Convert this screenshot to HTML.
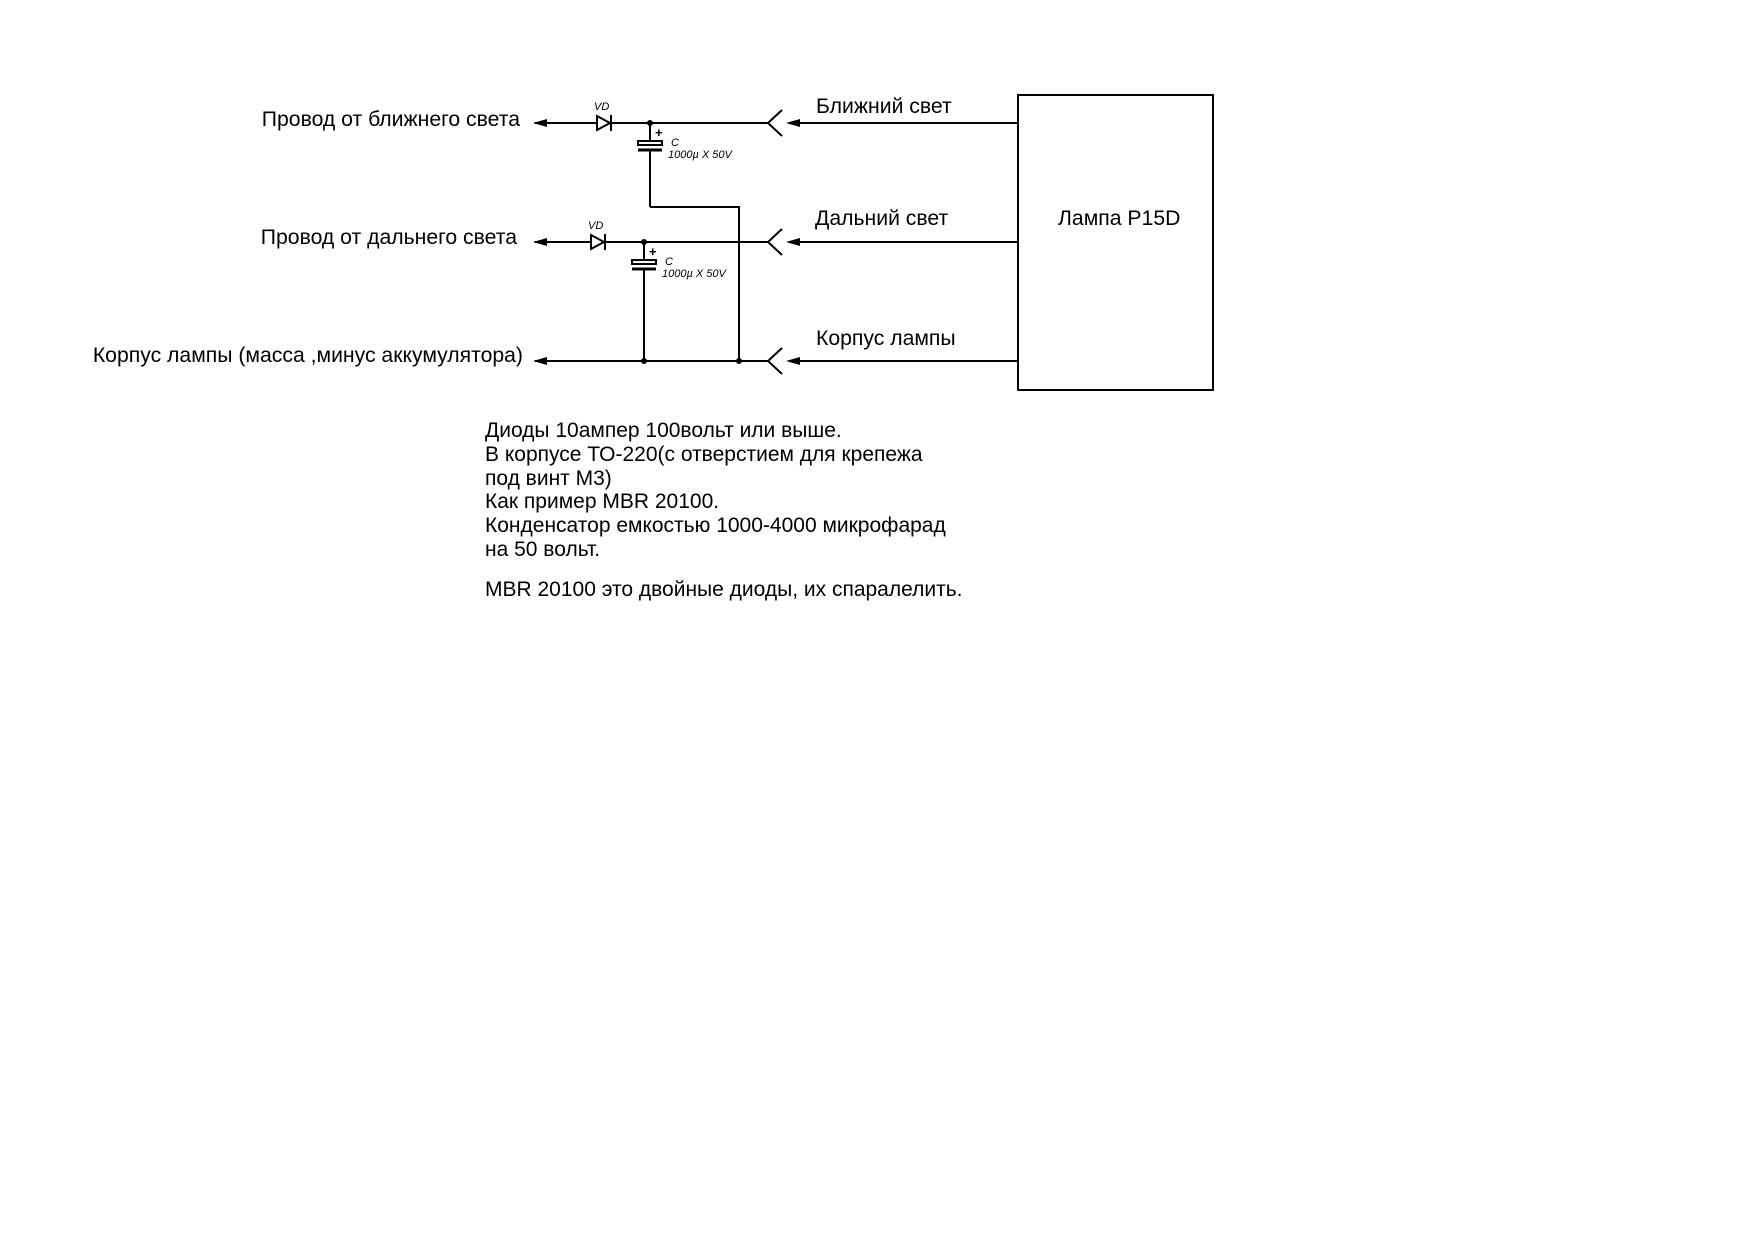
<!DOCTYPE html>
<html><head><meta charset="utf-8"><style>
html,body{margin:0;padding:0;background:#fff;}
body{width:1754px;height:1240px;position:relative;overflow:hidden;font-family:"Liberation Sans",Arial,sans-serif;}
svg{position:absolute;left:0;top:0;}
.notes{position:absolute;left:485px;font-size:21px;line-height:23.8px;color:#000;white-space:pre;}
</style></head><body>
<svg width="1754" height="1240" viewBox="0 0 1754 1240" font-family="Liberation Sans, Arial, sans-serif">
<g stroke="#000" stroke-width="2" fill="none">
<rect x="1018" y="95" width="195" height="295"/>
<line x1="535" y1="123" x2="596" y2="123"/>
<line x1="612" y1="123" x2="768" y2="123"/>
<polyline points="782,110 768,123 782,136"/>
<line x1="790" y1="123" x2="1018" y2="123"/>
<line x1="535" y1="242" x2="590" y2="242"/>
<line x1="606" y1="242" x2="768" y2="242"/>
<polyline points="782,229 768,242 782,255"/>
<line x1="790" y1="242" x2="1018" y2="242"/>
<line x1="535" y1="361" x2="768" y2="361"/>
<polyline points="782,348 768,361 782,374"/>
<line x1="790" y1="361" x2="1018" y2="361"/>
<line x1="650" y1="123" x2="650" y2="143"/>
<line x1="650" y1="149" x2="650" y2="207"/>
<polyline points="650,207 739,207 739,361"/>
<line x1="644" y1="242" x2="644" y2="262"/>
<line x1="644" y1="268" x2="644" y2="361"/>
</g>
<polygon points="597,116 597,130 610,123" fill="#fff" stroke="#000" stroke-width="2"/>
<line x1="611" y1="115" x2="611" y2="131" stroke="#000" stroke-width="2"/>
<polygon points="591,235 591,249 604,242" fill="#fff" stroke="#000" stroke-width="2"/>
<line x1="605" y1="234" x2="605" y2="250" stroke="#000" stroke-width="2"/>
<rect x="638" y="141" width="24" height="4" fill="#fff" stroke="#000" stroke-width="2"/>
<line x1="638" y1="150" x2="662" y2="150" stroke="#000" stroke-width="3"/>
<rect x="632" y="260" width="24" height="4" fill="#fff" stroke="#000" stroke-width="2"/>
<line x1="632" y1="269" x2="656" y2="269" stroke="#000" stroke-width="3"/>
<text x="655" y="137" font-size="13" font-weight="bold">+</text>
<text x="649" y="256" font-size="13" font-weight="bold">+</text>
<g fill="#000">
<circle cx="650" cy="123" r="3"/><circle cx="644" cy="242" r="3"/>
<circle cx="644" cy="361" r="3"/><circle cx="739" cy="361" r="3"/>
</g>
<g fill="#000">
<polygon points="533,123 547,119 547,127"/>
<polygon points="533,242 547,238 547,246"/>
<polygon points="533,361 547,357 547,365"/>
<polygon points="786,123 800,119 800,127"/>
<polygon points="786,242 800,238 800,246"/>
<polygon points="786,361 800,357 800,365"/>
</g>
<g font-size="11" font-style="italic" fill="#000">
<text x="594" y="110">VD</text>
<text x="588" y="229">VD</text>
<text x="671" y="146">C</text>
<text x="668" y="158">1000µ X 50V</text>
<text x="665" y="265">C</text>
<text x="662" y="277">1000µ X 50V</text>
</g>
<g font-size="21.2" fill="#000">
<text x="520" y="126" text-anchor="end">Провод от ближнего света</text>
<text x="517" y="244" text-anchor="end">Провод от дальнего света</text>
<text x="523" y="362" text-anchor="end">Корпус лампы (масса ,минус аккумулятора)</text>
<text x="816" y="113">Ближний свет</text>
<text x="815" y="225">Дальний свет</text>
<text x="816" y="345">Корпус лампы</text>
<text x="1058" y="225">Лампа P15D</text>
</g>
</svg>
<div class="notes" style="top:419px;">Диоды 10ампер 100вольт или выше.
В корпусе ТО-220(с отверстием для крепежа
под винт М3)
Как пример MBR 20100.
Конденсатор емкостью 1000-4000 микрофарад
на 50 вольт.</div>
<div class="notes" style="top:578px;">MBR 20100 это двойные диоды, их спаралелить.</div>
</body></html>
